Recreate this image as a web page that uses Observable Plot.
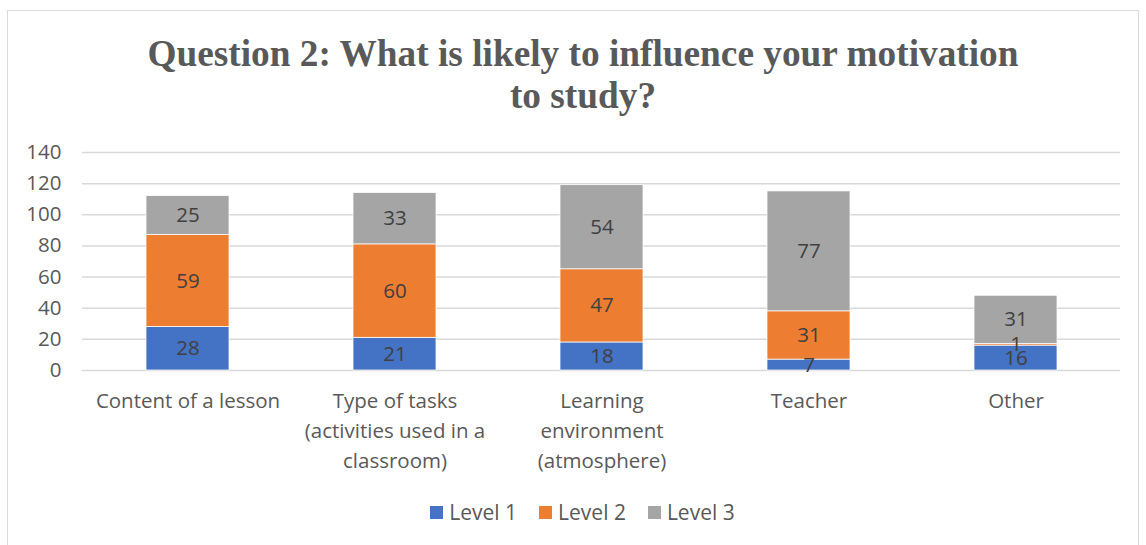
<!DOCTYPE html>
<html>
<head>
<meta charset="utf-8">
<script src="https://cdn.jsdelivr.net/npm/d3@7"></script>
<script src="https://cdn.jsdelivr.net/npm/@observablehq/plot@0.6"></script>
<style>
  html, body { margin: 0; padding: 0; background: #fff; width: 1146px; height: 545px; overflow: hidden; }
  #frame { position: absolute; left: 7px; top: 10px; width: 1132px; height: 545px; border: 1.5px solid #d9d9d9; box-sizing: border-box; }
  #title { position: absolute; left: 0; width: 1166px; top: 33px; text-align: center; font-family: "Liberation Serif", "Times New Roman", serif; font-weight: bold; font-size: 37.3px; line-height: 42px; color: #595959; }
  #chart { position: absolute; left: 0; top: 0; }
  #legend { position: absolute; left: 0; width: 1165px; top: 498px; display: flex; justify-content: center; gap: 22px; font-family: "Open Sans", sans-serif; font-size: 21px; color: #595959; }
  #legend .item { display: flex; align-items: center; gap: 6px; }
  #legend .sw { width: 13px; height: 13px; display: inline-block; }
</style>
</head>
<body>
<div id="frame"></div>
<div id="chart"></div>
<div id="title">Question 2: What is likely to influence your motivation<br>to study?</div>
<div id="legend"></div>
<script>
const categories = ["Content of a lesson", "Type of tasks (activities used in a classroom)", "Learning environment (atmosphere)", "Teacher", "Other"];
const categoryLabels = ["Content of a lesson", "Type of tasks\n(activities used in a\nclassroom)", "Learning\nenvironment\n(atmosphere)", "Teacher", "Other"];
const seriesNames = ["Level 1", "Level 2", "Level 3"];
const level1 = [28, 21, 18, 7, 16];
const level2 = [59, 60, 47, 31, 1];
const level3 = [25, 33, 54, 77, 31];
const colors = ["#4472C4", "#ED7D31", "#A5A5A5"];
const yTicks = [0, 20, 40, 60, 80, 100, 120, 140];

const seriesValues = [level1, level2, level3];
const data = [];
seriesNames.forEach((s, si) => {
  categories.forEach((c, ci) => data.push({category: c, series: s, value: seriesValues[si][ci]}));
});
const labelOf = new Map(categories.map((c, i) => [c, categoryLabels[i]]));

const chart = Plot.plot({
  width: 1146,
  height: 480,
  marginLeft: 82,
  marginRight: 26,
  marginTop: 152,
  marginBottom: 110,
  style: { fontFamily: "'Open Sans', sans-serif", background: "transparent", overflow: "visible" },
  x: { domain: categories, paddingInner: 0.6, paddingOuter: 0.3, label: null },
  y: { domain: [0, 140], ticks: yTicks, label: null },
  color: { domain: seriesNames, range: colors },
  marks: [
    Plot.gridY(yTicks, { stroke: "#d9d9d9", strokeOpacity: 1, strokeWidth: 1.5 }),
    Plot.barY(data, Plot.stackY({ x: "category", y: "value", fill: "series", order: seriesNames, stroke: "white", strokeWidth: 0.75 })),
    Plot.text(data, Plot.stackY({ x: "category", y: "value", z: "series", order: seriesNames, text: d => String(d.value), fill: "#404040", fontSize: 20.5 })),
    Plot.axisY(yTicks, { tickSize: 0, tickPadding: 21, fontSize: 20.5, color: "#595959", label: null }),
    Plot.axisX({ tickSize: 0, tickPadding: 16, fontSize: 20.5, color: "#595959", tickFormat: c => labelOf.get(c), lineHeight: 1.46, label: null })
  ]
});
document.getElementById("chart").appendChild(chart);

const legend = document.getElementById("legend");
seriesNames.forEach((s, i) => {
  const item = document.createElement("div");
  item.className = "item";
  const sw = document.createElement("span");
  sw.className = "sw";
  sw.style.background = colors[i];
  const t = document.createElement("span");
  t.textContent = s;
  item.appendChild(sw);
  item.appendChild(t);
  legend.appendChild(item);
});
</script>
</body>
</html>
